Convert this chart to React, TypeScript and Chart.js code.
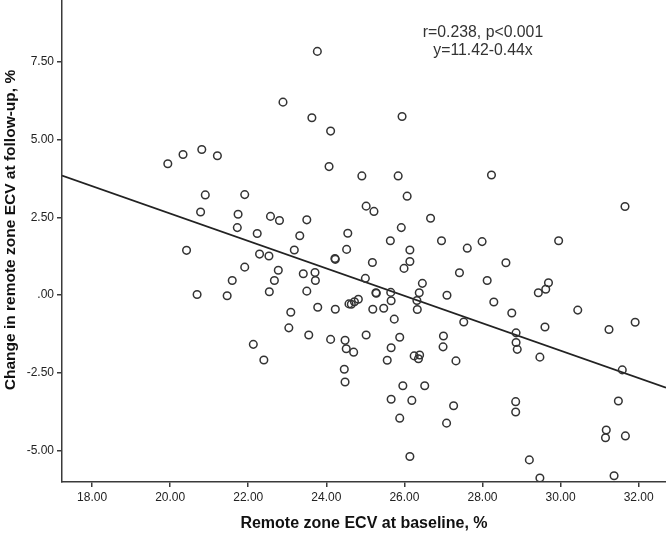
import React, { useEffect, useRef } from "react";
import { Chart, registerables } from "chart.js";

Chart.register(...registerables);

// Remote zone ECV at baseline, %
const ECV_BASELINE = [
  23.77, 22.89, 23.63, 24.11, 24.07, 19.94, 20.33, 20.81, 21.21, 20.90,
  21.91, 20.78, 21.74, 22.57, 22.80, 23.50, 21.72, 22.23, 23.32, 20.42,
  23.18, 22.29, 22.53, 24.22, 24.23, 21.91, 22.77, 23.41, 23.71, 20.69,
  21.46, 21.59, 22.67, 22.54, 23.72, 23.50, 23.78, 23.09, 23.04, 23.55,
  24.11, 22.13, 22.40, 24.23, 24.55, 24.52, 24.58, 24.48, 25.02, 25.22,
  26.67, 25.92, 25.64, 26.95, 27.99, 27.61, 26.14, 26.14, 25.18, 25.99,
  27.41, 28.12, 26.46, 25.00, 25.27, 25.28, 25.65, 26.38, 27.09, 25.66,
  26.32, 28.29, 24.64, 24.72, 24.82, 25.19, 25.47, 26.33, 27.52, 25.74,
  25.02, 25.88, 27.00, 24.51, 24.70, 25.66, 26.99, 26.25, 26.39, 26.36,
  25.56, 27.32, 24.46, 24.48, 25.96, 26.52, 25.66, 26.19, 28.60, 29.43,
  29.62, 29.69, 30.44, 28.75, 29.60, 28.86, 28.86, 28.89, 31.24, 31.91,
  31.58, 29.47, 28.85, 28.85, 27.26, 25.88, 27.08, 31.48, 31.17, 31.15,
  31.66, 26.14, 29.20, 29.47, 31.37, 25.94, 24.91, 25.84, 28.23, 31.65,
  26.07, 29.95,
];

// Change in remote zone ECV at follow-up, %
const ECV_CHANGE = [
  7.83, 6.20, 5.70, 5.27, 4.13, 4.22, 4.52, 4.68, 4.48, 3.22,
  3.23, 2.67, 2.60, 2.53, 2.40, 2.42, 2.17, 1.98, 1.91, 1.44,
  1.45, 1.32, 1.26, 1.18, 1.15, 0.90, 0.80, 0.69, 0.73, 0.02,
  -0.02, 0.47, 0.47, 0.11, 0.47, 0.13, -0.39, -0.55, -1.05, -1.28,
  -1.42, -1.58, -2.08, -0.45, 1.99, 1.47, -0.28, -1.45, 2.86, 2.69,
  2.47, 2.17, 1.75, 1.75, 1.72, 1.51, 1.45, 1.08, 1.05, 0.86,
  0.72, 0.47, 0.38, 0.54, 0.08, 0.06, 0.09, 0.08, 0.00, -0.18,
  -0.17, -0.22, -0.29, -0.21, -0.13, -0.45, -0.42, -0.46, -0.86, -0.77,
  -1.28, -1.35, -1.31, -1.72, -1.83, -1.69, -1.66, -1.95, -1.92, -2.04,
  -2.09, -2.11, -2.38, -2.79, -2.91, -2.91, -3.34, -3.38, 1.04, 0.08,
  0.19, 0.40, -0.48, -0.57, -1.02, -1.21, -1.52, -1.74, -1.10, -0.87,
  -2.40, -1.99, -3.42, -3.75, -3.55, -3.95, -4.11, -3.40, -4.33, -4.58,
  -4.52, -5.18, -5.29, -5.87, -5.80, 5.74, 3.83, 3.83, 3.86, 2.85,
  3.18, 1.75,
];

const X_TICKS = [18, 20, 22, 24, 26, 28, 30, 32];
const Y_TICKS = [-5, -2.5, 0, 2.5, 5, 7.5];

const FIT_INTERCEPT = 11.42;
const FIT_SLOPE = -0.44;

const X_MIN = 17.23;
const X_MAX = 32.7;
const Y_MIN = -6;
const Y_MAX = 9.48;

const ANNOTATION_LINES = ["r=0.238, p<0.001", "y=11.42-0.44x"];

const X_TITLE = "Remote zone ECV at baseline, %";
const Y_TITLE = "Change in remote zone ECV at follow-up, %";

const FONT = '"Liberation Sans", Arial, sans-serif';

function fmt(v: number): string {
  const s = v.toFixed(2);
  return s === "0.00" ? ".00" : s;
}

const textPlugin = {
  id: "extraText",
  afterDraw(chart: any) {
    const ctx = chart.ctx;
    ctx.save();
    ctx.font = `15.8px ${FONT}`;
    ctx.fillStyle = "#333";
    ctx.textAlign = "center";
    ctx.textBaseline = "middle";
    ctx.fillText(ANNOTATION_LINES[0], 483, 33);
    ctx.fillText(ANNOTATION_LINES[1], 483, 51);
    ctx.restore();

    // Y axis title
    ctx.save();
    ctx.font = `bold 15.5px ${FONT}`;
    ctx.fillStyle = "#111";
    ctx.textAlign = "center";
    ctx.textBaseline = "middle";
    ctx.translate(11, 230);
    ctx.rotate(-Math.PI / 2);
    ctx.fillText(Y_TITLE, 0, 0);
    ctx.restore();
  },
};

export default function App() {
  const canvasRef = useRef<HTMLCanvasElement | null>(null);

  useEffect(() => {
    const canvas = canvasRef.current;
    if (!canvas) return;
    const points = ECV_BASELINE.map((x, i) => ({ x, y: ECV_CHANGE[i] }));
    const fitLine = [
      { x: X_MIN, y: FIT_INTERCEPT + FIT_SLOPE * X_MIN },
      { x: X_MAX, y: FIT_INTERCEPT + FIT_SLOPE * X_MAX },
    ];
    const axisColor = "#3a3a3a";
    const chart = new Chart(canvas, {
      type: "scatter",
      data: {
        datasets: [
          {
            type: "scatter",
            data: points,
            pointStyle: "circle",
            pointRadius: 3.8,
            pointHoverRadius: 3.8,
            pointBorderWidth: 1.5,
            borderColor: "#333",
            backgroundColor: "rgba(0,0,0,0)",
          } as any,
          {
            type: "line",
            data: fitLine,
            borderColor: "#222",
            borderWidth: 1.8,
            pointRadius: 0,
            fill: false,
          } as any,
        ],
      },
      options: {
        responsive: false,
        animation: false,
        devicePixelRatio: 1,
        layout: { padding: 0, autoPadding: false },
        plugins: {
          legend: { display: false },
          tooltip: { enabled: false },
        },
        scales: {
          x: {
            type: "linear",
            min: X_MIN,
            max: X_MAX,
            afterBuildTicks: (scale: any) => {
              scale.ticks = X_TICKS.map((v) => ({ value: v }));
            },
            afterFit: (scale: any) => {
              scale.height = 52;
              scale.paddingLeft = 0;
              scale.paddingRight = 0;
            },
            border: { display: true, color: axisColor, width: 1.5 },
            grid: {
              display: true,
              drawOnChartArea: false,
              drawTicks: true,
              tickLength: 5,
              color: axisColor,
              lineWidth: 1.5,
            },
            ticks: {
              callback: (v: any) => fmt(Number(v)),
              font: { family: FONT, size: 12 },
              color: "#222",
              padding: 3,
              maxRotation: 0,
              autoSkip: false,
            },
            title: {
              display: true,
              text: X_TITLE,
              font: { family: FONT, size: 16, weight: "bold" },
              color: "#111",
              padding: { top: 0, bottom: 1 },
            },
          },
          y: {
            type: "linear",
            min: Y_MIN,
            max: Y_MAX,
            afterBuildTicks: (scale: any) => {
              scale.ticks = Y_TICKS.map((v) => ({ value: v }));
            },
            afterFit: (scale: any) => {
              scale.width = 62;
              scale.paddingTop = 0;
              scale.paddingBottom = 0;
            },
            border: { display: true, color: axisColor, width: 1.5 },
            grid: {
              display: true,
              drawOnChartArea: false,
              drawTicks: true,
              tickLength: 5,
              color: axisColor,
              lineWidth: 1.5,
            },
            ticks: {
              callback: (v: any) => fmt(Number(v)),
              font: { family: FONT, size: 12 },
              color: "#222",
              padding: 3,
              autoSkip: false,
            },
            title: { display: false },
          },
        },
      },
      plugins: [textPlugin],
    });
    return () => chart.destroy();
  }, []);

  return (
    <div
      style={{
        position: "fixed",
        left: 0,
        top: 0,
        width: 666,
        height: 534,
        background: "#fff",
      }}
    >
      <canvas ref={canvasRef} width={666} height={534} style={{ display: "block" }} />
    </div>
  );
}
